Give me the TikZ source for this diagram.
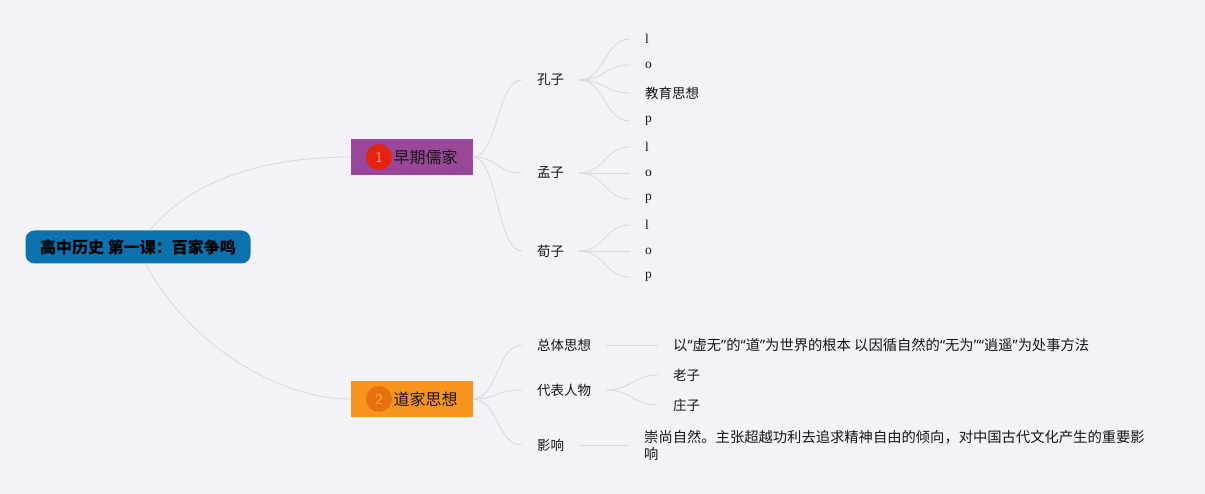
\documentclass[tikz,border=0pt]{standalone}
\usepackage{fontspec}
\setmainfont{Liberation Serif}
\newfontfamily\cjk{Noto Sans CJK SC}
\newfontfamily\qf{Noto Sans}
\newcommand{\myLq}{{\qf “}}
\newcommand{\myRq}{{\qf ”}}
\definecolor{bgc}{HTML}{F3F2F8}
\definecolor{rootc}{HTML}{0B72AE}
\definecolor{purp}{HTML}{9A4799}
\definecolor{redc}{HTML}{E4240F}
\definecolor{orc}{HTML}{F7941D}
\definecolor{dorc}{HTML}{E8700F}
\definecolor{linec}{HTML}{D9D8E0}
\definecolor{txt}{HTML}{151515}
\tikzset{
  conn/.style={draw=linec, line width=0.8pt},
  kid/.style={inner xsep=15pt, inner ysep=3pt, text=txt, font=\cjk\fontsize{13.5}{16}\selectfont},
  leaf/.style={inner xsep=15pt, inner ysep=3pt, text=txt, font=\fontsize{13.5}{15}\selectfont, anchor=west},
  cleaf/.style={inner xsep=15pt, inner ysep=3pt, text=txt, font=\cjk\fontsize{13.5}{17}\selectfont, anchor=west},
  branch/.style={minimum width=122pt, minimum height=36pt, inner sep=0pt, text=txt, font=\cjk\fontsize{16}{18}\selectfont},
  num/.style={circle, minimum size=26pt, inner sep=0pt, font=\sffamily\fontsize{15}{15}\selectfont}
}
\begin{document}
\begin{tikzpicture}[x=1pt,y=-1pt]
\fill[bgc] (0,0) rectangle (1205,494);
\useasboundingbox (0,0) rectangle (1205,494);
% root
\node[fill=rootc, rounded corners=9pt, minimum width=225pt, minimum height=33pt, inner sep=0pt,
      font=\cjk\bfseries\fontsize{16}{18}\selectfont, text=black] (root) at (138,247) {高中历史 第一课：百家争鸣};
% branches
\node[branch, fill=purp] (b1) at (411.5,157) {\makebox[122pt][r]{早期儒家\hspace{15pt}}};
\node[num, fill=redc, text=red!40!white] (c1) at (379,157) {1};
\node[branch, fill=orc] (b2) at (411.5,399) {\makebox[122pt][r]{道家思想\hspace{15pt}}};
\node[num, fill=dorc, text=orc!70!white] (c2) at (379,399) {2};
\draw[conn] ([xshift=12pt]root.north) .. controls (195,175) and (275,157) .. (b1.west);
\draw[conn] ([xshift=8pt]root.south) .. controls (185,340) and (275,399) .. (b2.west);
% level 2 under b1
\node[kid, anchor=west] (kz) at (522,80) {孔子};
\node[kid, anchor=west] (mz) at (522,173) {孟子};
\node[kid, anchor=west] (xz) at (522,251) {荀子};
\foreach \n in {kz,mz,xz}
  \draw[conn] (b1.east) .. controls +(25,0) and +(-25,0) .. (\n.west);
% leaves of kz
\node[leaf] (k1) at (630,39) {l};
\node[leaf] (k2) at (630,65) {o};
\node[cleaf] (k3) at (630,93) {教育思想};
\node[leaf] (k4) at (630,121) {p};
\foreach \n in {k1,k2,k3,k4}
  \draw[conn] (kz.east) .. controls +(25,0) and +(-25,0) .. (\n.west);
% leaves of mz
\node[leaf] (m1) at (630,147) {l};
\node[leaf] (m2) at (630,173) {o};
\node[leaf] (m3) at (630,199) {p};
\foreach \n in {m1,m2,m3}
  \draw[conn] (mz.east) .. controls +(25,0) and +(-25,0) .. (\n.west);
% leaves of xz
\node[leaf] (x1) at (630,225) {l};
\node[leaf] (x2) at (630,251) {o};
\node[leaf] (x3) at (630,277) {p};
\foreach \n in {x1,x2,x3}
  \draw[conn] (xz.east) .. controls +(25,0) and +(-25,0) .. (\n.west);
% level 2 under b2
\node[kid, anchor=west] (zt) at (522,345) {总体思想};
\node[kid, anchor=west] (db) at (522,390) {代表人物};
\node[kid, anchor=west] (yx) at (522,445) {影响};
\foreach \n in {zt,db,yx}
  \draw[conn] (b2.east) .. controls +(25,0) and +(-25,0) .. (\n.west);
\node[cleaf, font=\cjk\fontsize{14.3}{17}\selectfont] (zt1) at (658,345) {以\myLq 虚无\myRq 的\myLq 道\myRq 为世界的根本 以因循自然的\myLq 无为\myRq\myLq 逍遥\myRq 为处事方法};
\draw[conn] (zt.east) -- (zt1.west);
\node[cleaf] (lz) at (658,375) {老子};
\node[cleaf] (zz) at (658,405) {庄子};
\foreach \n in {lz,zz}
  \draw[conn] (db.east) .. controls +(25,0) and +(-25,0) .. (\n.west);
\node[cleaf, align=left, font=\cjk\fontsize{14.3}{17}\selectfont] (yx1) at (629,445) {崇尚自然。主张超越功利去追求精神自由的倾向，对中国古代文化产生的重要影\\响};
\draw[conn] (yx.east) -- (yx1.west);
\end{tikzpicture}
\end{document}
